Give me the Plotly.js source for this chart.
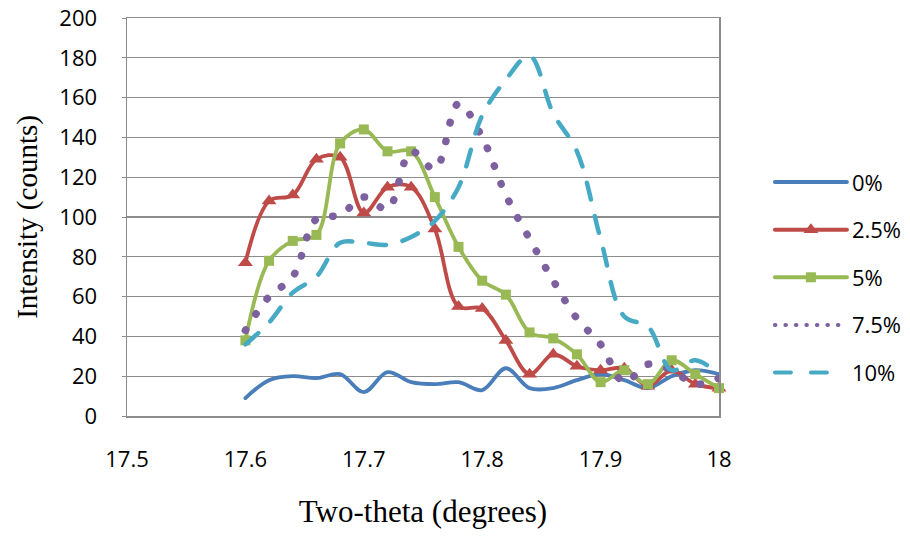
<!DOCTYPE html>
<html>
<head>
<meta charset="utf-8">
<script src="https://cdn.plot.ly/plotly-3.0.1.min.js"></script>
<style>
  html, body { margin: 0; padding: 0; background: #fff; }
  #chart { width: 910px; height: 538px; }
  .js-line { stroke-linecap: round; stroke-linejoin: round; }
</style>
</head>
<body>
<div id="chart"></div>
<script>
// Two-theta positions (degrees)
const twoTheta = [17.60, 17.62, 17.64, 17.66, 17.68, 17.70, 17.72, 17.74, 17.76, 17.78, 17.80,
                  17.82, 17.84, 17.86, 17.88, 17.90, 17.92, 17.94, 17.96, 17.98, 18.00];

// Intensity (counts) per series
const seriesNames = ['0%', '2.5%', '5%', '7.5%', '10%'];
const s0   = [9, 18, 20, 19, 21, 12, 22, 17, 16, 17, 13, 24, 14, 14, 18, 21, 18, 14, 20, 23, 21];
const s25  = [77, 108, 111, 129, 130, 102, 115, 115, 94, 55, 54, 38, 21, 31, 25, 23, 24, 15, 23, 16, 14];
const s5   = [38, 78, 88, 91, 137, 144, 133, 133, 110, 85, 68, 61, 42, 39, 31, 17, 23, 16, 28, 21, 14];
const s75  = [43, 60, 70, 99, 101, 110, 104, 133, 124, 157, 140, 111, 89, 68, 49, 36, 17, 26, 23, 16, 19];
const s10  = [36, 47, 62, 70, 87, 87, 86, 90, 98, 115, 151, 169, 181, 152, 133, 89, 50, 45, 23, 28, 21];

// Axis ticks
const xTickVals = [17.5, 17.6, 17.7, 17.8, 17.9, 18.0];
const xTickText = ['17.5', '17.6', '17.7', '17.8', '17.9', '18'];
const yTickVals = [0, 20, 40, 60, 80, 100, 120, 140, 160, 180, 200];

const colors = ['#4a7ebb', '#be4b48', '#98b954', '#7d60a0', '#46aac5'];
const seriesValues = [s0, s25, s5, s75, s10];

const traces = seriesValues.map((vals, i) => {
  const t = {
    x: twoTheta,
    y: vals,
    name: seriesNames[i],
    legendgroup: 'g' + i,
    type: 'scatter',
    mode: 'lines',
    cliponaxis: false,
    line: { color: colors[i], width: 3.8, shape: 'spline', smoothing: 1 }
  };
  if (i === 1) {
    t.mode = 'lines+markers';
    t.marker = { symbol: 'triangle-up', size: 13, color: colors[i] };
  } else if (i === 2) {
    t.mode = 'lines+markers';
    t.marker = { symbol: 'square', size: 10, color: colors[i] };
  } else if (i === 3) {
    t.line.width = 7.5;
    t.line.dash = '0.5px,18.5px';
  } else if (i === 4) {
    t.line.width = 4.5;
    t.line.dash = '17px,17px';
  }
  return t;
});

const gridColor = '#8c8c8c';
const layout = {
  width: 910,
  height: 538,
  autosize: false,
  paper_bgcolor: '#ffffff',
  plot_bgcolor: '#ffffff',
  margin: { l: 127, r: 191, t: 18, b: 122, pad: 0 },
  font: { family: '"Open Sans", sans-serif', size: 22, color: '#000' },
  xaxis: {
    range: [17.5, 18.0],
    tickmode: 'array',
    tickvals: xTickVals,
    ticktext: xTickText,
    showgrid: false,
    zeroline: false,
    showline: true,
    linecolor: gridColor,
    linewidth: 1.5,
    mirror: true,
    ticks: '',
    ticklabelstandoff: 23,
    tickfont: { family: '"Open Sans", sans-serif', size: 22, color: '#000' },
    title: {
      text: 'Two-theta (degrees)',
      font: { family: '"Liberation Serif", "Times New Roman", serif', size: 31, color: '#000' },
      standoff: 28
    }
  },
  yaxis: {
    range: [0, 200],
    tickmode: 'array',
    tickvals: yTickVals,
    showgrid: true,
    gridcolor: gridColor,
    gridwidth: 1.3,
    zeroline: false,
    showline: true,
    linecolor: gridColor,
    linewidth: 1.5,
    mirror: true,
    ticks: 'outside',
    ticklen: 4,
    tickcolor: gridColor,
    ticklabelstandoff: 20,
    tickfont: { family: '"Open Sans", sans-serif', size: 22, color: '#000' },
    title: {
      text: 'Intensity (counts)',
      font: { family: '"Liberation Serif", "Times New Roman", serif', size: 29, color: '#000' },
      standoff: 13
    }
  },
  showlegend: true,
  legend: {
    x: 1.086,
    xanchor: 'left',
    y: 0.64,
    yanchor: 'top',
    tracegroupgap: 16,
    bgcolor: 'rgba(0,0,0,0)',
    font: { family: '"Open Sans", sans-serif', size: 22, color: '#000' }
  }
};

Plotly.newPlot('chart', traces, layout, { staticPlot: true, displayModeBar: false }).then(gd => {
  gd.querySelectorAll('.legend .scrollbox').forEach(s => s.removeAttribute('clip-path'));
  gd.querySelectorAll('.legend .traces').forEach((tr, idx) => {
    const line = tr.querySelector('path.js-line');
    if (line) {
      line.setAttribute('d', 'M5,0h72');
      line.style.strokeWidth = '4px';
      if (idx === 3) line.style.strokeDasharray = '0.5px,10px';
      if (idx === 4) line.style.strokeDasharray = '16px,20px';
    }
    tr.querySelectorAll('path.scatterpts').forEach(p => p.setAttribute('transform', 'translate(41,0)'));
    tr.querySelectorAll('text.legendtext').forEach(tx => tx.setAttribute('x', 82));
  });
});
</script>
</body>
</html>
